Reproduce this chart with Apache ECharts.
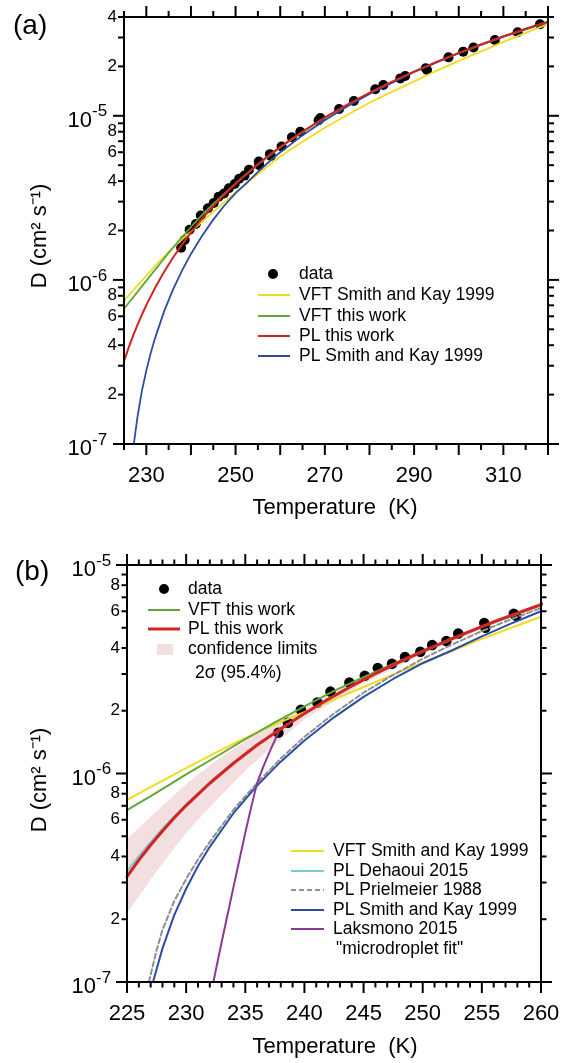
<!DOCTYPE html>
<html lang="en">
<head>
<meta charset="UTF-8">
<title>Diffusivity of supercooled water</title>
<script src="https://cdn.jsdelivr.net/npm/echarts@6/dist/echarts.min.js"></script>
<style>
    html, body { margin: 0; padding: 0; background: #fff; }
    #chart { width: 564px; height: 1063px; }
</style>
</head>
<body>
<div id="chart"></div>
<script>
    // measured D (cm2 s-1) vs T (K)
    var tData = [237.8,238.6,239.7,241.1,242.2,243.8,245.1,246.2,247.4,248.5,249.8,250.8,252.0,253.0,255.2,255.3,257.7,257.9];
    var dData = [1.57e-6,1.75e-6,2.02e-6,2.19e-6,2.47e-6,2.73e-6,2.94e-6,3.21e-6,3.36e-6,3.62e-6,3.84e-6,4.13e-6,4.32e-6,4.69e-6,5.27e-6,5.0e-6,5.84e-6,5.7e-6];
    var tDataWarm = [260.3,262.6,264.5,268.6,269.0,273.2,276.5,281.3,283.1,286.9,288.0,292.6,292.9,297.7,301.0,303.3,308.1,313.2,318.2];
    var dDataWarm = [6.5e-6,7.4e-6,8.0e-6,9.4e-6,9.7e-6,1.1e-5,1.23e-5,1.45e-5,1.54e-5,1.69e-5,1.75e-5,1.95e-5,1.9e-5,2.27e-5,2.46e-5,2.61e-5,2.9e-5,3.23e-5,3.61e-5];

    // PL this work (red)
    var tPL = [225,226,227,228,229,230,232,234,236,238,240,242,244,246,248,250,252,254,256,258,260,265,270,275,280,285,290,295,300,305,310,315,320];
    var dPL = [3.20e-7,3.84e-7,4.54e-7,5.30e-7,6.13e-7,7.02e-7,8.98e-7,1.12e-6,1.37e-6,1.64e-6,1.94e-6,2.27e-6,2.63e-6,3.01e-6,3.42e-6,3.85e-6,4.32e-6,4.81e-6,5.33e-6,5.88e-6,6.46e-6,8.02e-6,9.77e-6,1.17e-5,1.38e-5,1.61e-5,1.86e-5,2.13e-5,2.41e-5,2.72e-5,3.04e-5,3.39e-5,3.75e-5];
    // VFT this work (green)
    var tVFT = [225,227.5,230,232.5,235,237.5,240,242.5,245,247.5,250,255,260,265,270,280,290,300,310,320];
    var dVFT = [6.67e-7,8.1e-7,9.9e-7,1.2e-6,1.46e-6,1.76e-6,2.1e-6,2.49e-6,2.9e-6,3.35e-6,3.87e-6,5.05e-6,6.4e-6,7.95e-6,9.7e-6,1.38e-5,1.86e-5,2.41e-5,3.04e-5,3.72e-5];
    // VFT Smith and Kay 1999 (yellow)
    var tVFTSK = [225,227.5,230,232.5,235,237.5,240,242.5,245,247.5,250,252.5,255,257.5,260,265,270,275,280,285,290,295,300,305,310,315,320];
    var dVFTSK = [7.48e-7,8.91e-7,1.06e-6,1.26e-6,1.48e-6,1.72e-6,1.97e-6,2.26e-6,2.6e-6,2.98e-6,3.41e-6,3.88e-6,4.42e-6,5.0e-6,5.65e-6,6.95e-6,8.45e-6,1.01e-5,1.2e-5,1.4e-5,1.62e-5,1.88e-5,2.16e-5,2.47e-5,2.82e-5,3.2e-5,3.62e-5];
    // PL Smith and Kay 1999 (blue)
    var tPLSK = [227.2,228,229,230,231,232,234,236,238,240,242.5,245,247.5,250,252.5,255,257.5,260,265,270,275,280,290,300,310,320];
    var dPLSK = [1.0e-7,1.45e-7,2.1e-7,2.8e-7,3.6e-7,4.45e-7,6.45e-7,8.75e-7,1.14e-6,1.44e-6,1.86e-6,2.33e-6,2.84e-6,3.38e-6,3.9e-6,4.55e-6,5.25e-6,6.0e-6,7.6e-6,9.4e-6,1.14e-5,1.36e-5,1.85e-5,2.42e-5,3.05e-5,3.74e-5];
    // PL Dehaoui 2015 (cyan)
    var tDeh = [225,226,227,228,229,230,232,234,236,238,240,245,250,255,260];
    var dDeh = [3.4e-7,4.0e-7,4.68e-7,5.42e-7,6.22e-7,7.1e-7,9.05e-7,1.12e-6,1.37e-6,1.64e-6,1.94e-6,2.82e-6,3.85e-6,5.06e-6,6.46e-6];
    // PL Prielmeier 1988 (grey dashed)
    var tPri = [226.85,227.5,228,229,230,231,232,234,236,238,240,242.5,245,247.5,250,252.5,255,257.5,260];
    var dPri = [1.0e-7,1.42e-7,1.78e-7,2.45e-7,3.12e-7,3.87e-7,4.7e-7,6.7e-7,9.0e-7,1.18e-6,1.5e-6,1.94e-6,2.44e-6,2.97e-6,3.55e-6,4.16e-6,4.82e-6,5.5e-6,6.22e-6];
    // Laksmono 2015 microdroplet fit (purple)
    var tLak = [232.3,233,233.5,234,234.5,235,235.5,236,236.5,237,237.8];
    var dLak = [1.0e-7,1.55e-7,2.1e-7,2.85e-7,3.85e-7,5.2e-7,6.9e-7,9.0e-7,1.07e-6,1.25e-6,1.58e-6];
    // 2 sigma confidence limits of PL this work
    var tBand = [225,227.5,230,232.5,235,237.5,240,245,250,255,260];
    var dBandHi = [4.85e-7,6.6e-7,8.9e-7,1.15e-6,1.43e-6,1.76e-6,2.06e-6,2.95e-6,3.97e-6,5.2e-6,6.6e-6];
    var dBandLo = [2.14e-7,3.4e-7,5.2e-7,7.4e-7,1.03e-6,1.38e-6,1.82e-6,2.7e-6,3.73e-6,4.93e-6,6.32e-6];

    // ticks
    var xTicksA = [225,230,235,240,245,250,255,260,265,270,275,280,285,290,295,300,305,310,315,320];
    var xLabelsA = [230,250,270,290,310];
    var xTicksB = [225,226,227,228,229,230,231,232,233,234,235,236,237,238,239,240,241,242,243,244,245,246,247,248,249,250,251,252,253,254,255,256,257,258,259,260];
    var xLabelsB = [225,230,235,240,245,250,255,260];
    var yTicksA = [1e-7,2e-7,3e-7,4e-7,5e-7,6e-7,7e-7,8e-7,9e-7,1e-6,2e-6,3e-6,4e-6,5e-6,6e-6,7e-6,8e-6,9e-6,1e-5,2e-5,3e-5,4e-5];
    var yTicksB = [1e-7,2e-7,3e-7,4e-7,5e-7,6e-7,7e-7,8e-7,9e-7,1e-6,2e-6,3e-6,4e-6,5e-6,6e-6,7e-6,8e-6,9e-6,1e-5];
    var yLabelMant = [2,4,6,8];

    var FONT = '"Liberation Sans", Arial, Helvetica, sans-serif';
    var YELLOW = '#f0dc1e', GREEN = '#62a73b', RED = '#d42320', BLUE = '#2b4ea5',
        CYAN = '#7fc8d8', GREY = '#909090', PURPLE = '#8c3996', PINK = '#f3dfdf';

    function pairs(t, d) {
        return t.map(function (v, i) { return [v, d[i]]; });
    }

    function frameItem(o) {
        return function (params, api) {
            var kids = [];
            var bl = api.coord([o.xMin, o.yMin]), tr = api.coord([o.xMax, o.yMax]);
            var L = bl[0], R = tr[0], T = tr[1], B = bl[1];
            function ln(x1, y1, x2, y2) {
                kids.push({type: 'line', shape: {x1: x1, y1: y1, x2: x2, y2: y2}, style: {stroke: '#000', lineWidth: 2}});
            }
            function tx(s, x, y, size, align) {
                kids.push({type: 'text', style: {text: s, x: x, y: y, fill: '#000', font: size + 'px ' + FONT, align: align, verticalAlign: 'middle'}});
            }
            o.xTicks.forEach(function (v) {
                var x = api.coord([v, o.yMin])[0];
                var len = Math.abs(v % o.xMajor) < 1e-9 ? o.major : o.minor;
                ln(x, B, x, B + len);
                ln(x, T, x, T - len);
            });
            o.xLabels.forEach(function (v) {
                tx(String(v), api.coord([v, o.yMin])[0], B + 32, 22, 'center');
            });
            o.yTicks.forEach(function (v) {
                var y = api.coord([o.xMin, v])[1];
                var e = Math.floor(Math.log10(v) + 1e-9);
                var m = Math.round(v / Math.pow(10, e));
                var len = m === 1 ? o.major : o.minor;
                ln(L - len, y, L, y);
                ln(R, y, R + len, y);
                if (m === 1) {
                    tx('10', L - o.decGap, y + 5, 22, 'right');
                    tx('-' + Math.abs(e), L - o.decGap, y - 4, 17, 'left');
                } else if (yLabelMant.indexOf(m) >= 0) {
                    tx(String(m), L - 7, y, 17, 'right');
                }
            });
            kids.push({type: 'rect', shape: {x: L, y: T, width: R - L, height: B - T},
                style: {fill: 'none', stroke: '#000', lineWidth: 2}});
            return {type: 'group', children: kids};
        };
    }

    function bandItem(params, api) {
        var pts = [];
        tBand.forEach(function (t, i) { pts.push(api.coord([t, dBandHi[i]])); });
        for (var i = tBand.length - 1; i >= 0; i--) pts.push(api.coord([tBand[i], dBandLo[i]]));
        return {type: 'polygon', shape: {points: pts}, style: {fill: PINK}};
    }

    function curve(name, t, d, color, width, idx, z, dash) {
        return {
            name: name, type: 'line', xAxisIndex: idx, yAxisIndex: idx,
            data: pairs(t, d), symbol: 'none', showSymbol: false,
            smooth: false, z: z, silent: true,
            lineStyle: {color: color, width: width, type: dash || 'solid', cap: 'round', join: 'round'}
        };
    }

    // legends
    function legendLine(x1, x2, y, color, width, dash) {
        return {type: 'line', silent: true, shape: {x1: x1, y1: y, x2: x2, y2: y},
            style: {stroke: color, lineWidth: width, lineDash: dash || null}};
    }
    function legendText(s, x, y, size) {
        return {type: 'text', silent: true, x: x, y: y,
            style: {text: s, fill: '#000', font: (size || 17.5) + 'px ' + FONT, verticalAlign: 'middle'}};
    }

    var graphic = [
        {type: 'text', x: 13, y: 26, style: {text: '(a)', fill: '#000', font: '28px ' + FONT, verticalAlign: 'middle'}},
        {type: 'text', x: 15, y: 572, style: {text: '(b)', fill: '#000', font: '28px ' + FONT, verticalAlign: 'middle'}},
        {type: 'text', x: 40, y: 236, rotation: Math.PI / 2,
            style: {text: 'D (cm\u00b2 s\u207b\u00b9)', fill: '#000', font: '22px ' + FONT, align: 'center', verticalAlign: 'middle'}},
        {type: 'text', x: 40, y: 780, rotation: Math.PI / 2,
            style: {text: 'D (cm\u00b2 s\u207b\u00b9)', fill: '#000', font: '22px ' + FONT, align: 'center', verticalAlign: 'middle'}},
        {type: 'text', x: 335, y: 508, style: {text: 'Temperature  (K)', fill: '#000', font: '22px ' + FONT, align: 'center', verticalAlign: 'middle'}},
        {type: 'text', x: 335, y: 1047, style: {text: 'Temperature  (K)', fill: '#000', font: '22px ' + FONT, align: 'center', verticalAlign: 'middle'}},

        // (a) legend
        {type: 'circle', silent: true, shape: {cx: 273, cy: 274, r: 5}, style: {fill: '#000'}},
        legendText('data', 299, 274),
        legendLine(258, 290, 295, YELLOW, 2), legendText('VFT Smith and Kay 1999', 299, 295),
        legendLine(258, 290, 316, GREEN, 2), legendText('VFT this work', 299, 316),
        legendLine(258, 290, 336, RED, 2), legendText('PL this work', 299, 336),
        legendLine(258, 290, 356, BLUE, 2), legendText('PL Smith and Kay 1999', 299, 356),

        // (b) upper legend
        {type: 'circle', silent: true, shape: {cx: 164, cy: 589, r: 5}, style: {fill: '#000'}},
        legendText('data', 188, 589),
        legendLine(148, 180, 610, GREEN, 2), legendText('VFT this work', 188, 610),
        legendLine(148, 180, 629, RED, 3), legendText('PL this work', 188, 629),
        {type: 'rect', silent: true, shape: {x: 157, y: 644, width: 16, height: 11}, style: {fill: PINK}},
        legendText('confidence limits', 188, 649),
        legendText('2\u03c3 (95.4%)', 195, 673),

        // (b) lower legend
        legendLine(291, 324, 851, YELLOW, 2), legendText('VFT Smith and Kay 1999', 333, 851),
        legendLine(291, 324, 871, CYAN, 2), legendText('PL Dehaoui 2015', 333, 871),
        legendLine(291, 324, 890, GREY, 2, [5, 3]), legendText('PL Prielmeier 1988', 333, 890),
        legendLine(291, 324, 910, BLUE, 2), legendText('PL Smith and Kay 1999', 333, 910),
        legendLine(291, 324, 929, PURPLE, 2), legendText('Laksmono 2015', 333, 929),
        legendText('"microdroplet fit"', 336, 949)
    ];

    var chart = echarts.init(document.getElementById('chart'));
    chart.setOption({
        animation: false,
        backgroundColor: '#fff',
        textStyle: {fontFamily: FONT},
        grid: [
            {left: 124, top: 17, width: 424, height: 427},
            {left: 127, top: 565, width: 414, height: 417}
        ],
        xAxis: [
            {gridIndex: 0, type: 'value', min: 225, max: 320, show: false},
            {gridIndex: 1, type: 'value', min: 225, max: 260, show: false}
        ],
        yAxis: [
            {gridIndex: 0, type: 'log', logBase: 10, min: 1e-7, max: 4e-5, show: false},
            {gridIndex: 1, type: 'log', logBase: 10, min: 1e-7, max: 1e-5, show: false}
        ],
        graphic: graphic,
        series: [
            // panel (a)
            {name: 'data', type: 'scatter', xAxisIndex: 0, yAxisIndex: 0, z: 2, silent: true,
                data: pairs(tData.concat(tDataWarm), dData.concat(dDataWarm)),
                symbol: 'circle', symbolSize: 10, itemStyle: {color: '#000', opacity: 1}},
            curve('VFT Smith and Kay 1999', tVFTSK, dVFTSK, YELLOW, 1.8, 0, 3),
            curve('VFT this work', tVFT, dVFT, GREEN, 1.8, 0, 3),
            curve('PL Smith and Kay 1999', tPLSK, dPLSK, BLUE, 1.8, 0, 3),
            curve('PL this work', tPL, dPL, RED, 2, 0, 4),
            {type: 'custom', xAxisIndex: 0, yAxisIndex: 0, z: 10, silent: true, clip: false,
                data: [[225, 1e-7]],
                renderItem: frameItem({xMin: 225, xMax: 320, yMin: 1e-7, yMax: 4e-5,
                    xTicks: xTicksA, xLabels: xLabelsA, xMajor: 10, yTicks: yTicksA,
                    major: 11, minor: 6, decGap: 32})},

            // panel (b)
            {type: 'custom', xAxisIndex: 1, yAxisIndex: 1, z: 1, silent: true,
                data: [[225, 1e-6]], renderItem: bandItem},
            {name: 'data', type: 'scatter', xAxisIndex: 1, yAxisIndex: 1, z: 2, silent: true,
                data: pairs(tData, dData), symbol: 'circle', symbolSize: 10.5, itemStyle: {color: '#000', opacity: 1}},
            curve('VFT Smith and Kay 1999', tVFTSK, dVFTSK, YELLOW, 2, 1, 3),
            curve('VFT this work', tVFT, dVFT, GREEN, 2, 1, 3),
            curve('PL Prielmeier 1988', tPri, dPri, GREY, 2, 1, 3, [5, 3]),
            curve('PL Smith and Kay 1999', tPLSK, dPLSK, BLUE, 2, 1, 3),
            curve('Laksmono 2015', tLak, dLak, PURPLE, 2, 1, 3),
            curve('PL Dehaoui 2015', tDeh, dDeh, CYAN, 2.5, 1, 3),
            curve('PL this work', tPL, dPL, RED, 3, 1, 4),
            {type: 'custom', xAxisIndex: 1, yAxisIndex: 1, z: 10, silent: true, clip: false,
                data: [[225, 1e-7]],
                renderItem: frameItem({xMin: 225, xMax: 260, yMin: 1e-7, yMax: 1e-5,
                    xTicks: xTicksB, xLabels: xLabelsB, xMajor: 5, yTicks: yTicksB,
                    major: 11, minor: 5.5, decGap: 31})}
        ]
    });
</script>
</body>
</html>
